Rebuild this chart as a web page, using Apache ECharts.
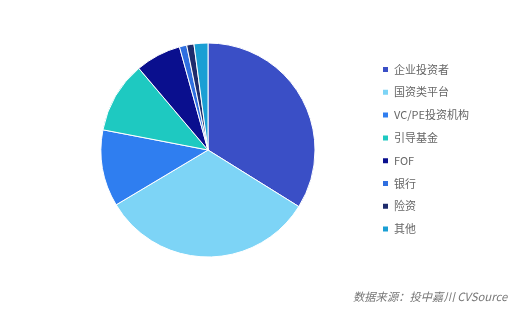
<!DOCTYPE html>
<html><head><meta charset="utf-8">
<script src="https://cdn.jsdelivr.net/npm/echarts@6/dist/echarts.min.js"></script>
<style>html,body{margin:0;padding:0;background:#fff}#c{width:528px;height:318px}</style>
</head><body><div id="c"></div>
<script>
var categories = ['企业投资者','国资类平台','VC/PE投资机构','引导基金','FOF','银行','险资','其他'];
var values = [33.9, 32.6, 11.6, 10.8, 6.9, 1.1, 1.1, 2.1];
var colors = ['#3a4fc6','#7dd4f6','#2f7ef0','#1ec9c1','#0a0f8e','#2f6fe0','#1e2c6c','#1a9fd4'];
var sourceText = '数据来源：投中嘉川 CVSource';

var chart = echarts.init(document.getElementById('c'));
chart.setOption({
  animation: false,
  color: colors,
  legend: {
    orient: 'vertical',
    left: 376,
    top: 59,
    itemWidth: 7,
    itemHeight: 7,
    itemGap: 11.8,
    icon: 'rect',
    textStyle: { fontSize: 11, color: '#666', lineHeight: 11, fontFamily: 'Noto Sans CJK SC' },
    data: categories
  },
  graphic: [{
    type: 'text',
    left: 353,
    top: 291,
    style: { text: sourceText, fontSize: 11.3, fontStyle: 'italic', fill: '#777', fontFamily: 'Noto Sans CJK SC' }
  }],
  series: [{
    type: 'pie',
    center: [208, 150],
    radius: 107,
    startAngle: 90,
    clockwise: true,
    label: { show: false },
    labelLine: { show: false },
    itemStyle: { borderColor: '#fff', borderWidth: 1 },
    data: categories.map(function (n, i) { return { name: n, value: values[i] }; })
  }]
});
</script></body></html>
